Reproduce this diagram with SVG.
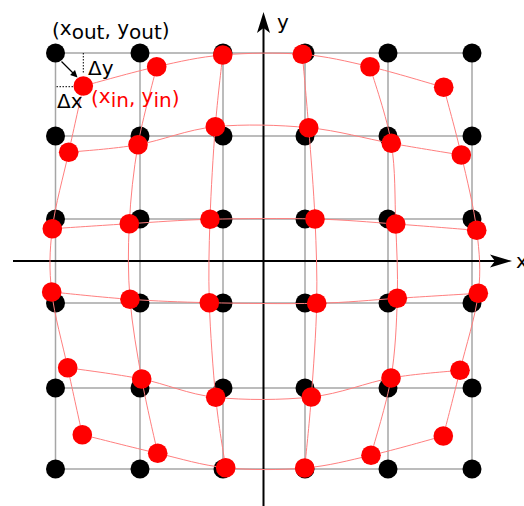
<svg xmlns="http://www.w3.org/2000/svg" width="524" height="506" viewBox="0 0 524 506">
<style>
.grid{stroke:#a6a6a6;stroke-width:1.5;fill:none}
.axis{stroke:#000;stroke-width:2;fill:none}
.rl{stroke:#ff7f7f;stroke-width:1;fill:none;stroke-linejoin:round}
.bd{fill:#000}
.rd{fill:#ff0000}
text{font-family:"DejaVu Sans","Liberation Sans",sans-serif;font-size:20px}
.dot{stroke:#000;stroke-width:1;stroke-dasharray:1.5 1.5;fill:none}
</style>
<rect width="524" height="506" fill="#fff"/>
<g id="grid">
<path class="grid" d="M55.5 53V469M140 53V469M223 53V469M305 53V469M388 53V469M472 53V469M55.5 53H472M55.5 136H472M55.5 219H472M55.5 303H472M55.5 388H472M55.5 469H472"/>
</g>
<g id="axes">
<line class="axis" x1="13" y1="261" x2="497" y2="261"/>
<path d="M512 261L490 254.5L495 261L490 267.5Z" fill="#000"/>
<line class="axis" x1="263.5" y1="506" x2="263.5" y2="28"/>
<path d="M263.5 12L257 33L263.5 28L270 33Z" fill="#000"/>
<text x="277" y="29">y</text>
<text x="516" y="268">x</text>
</g>
<g id="output-points">
<circle class="bd" cx="55.5" cy="53" r="9.5"/><circle class="bd" cx="140" cy="53" r="9.5"/><circle class="bd" cx="223" cy="53" r="9.5"/><circle class="bd" cx="305" cy="53" r="9.5"/><circle class="bd" cx="388" cy="53" r="9.5"/><circle class="bd" cx="472" cy="53" r="9.5"/>
<circle class="bd" cx="55.5" cy="136" r="9.5"/><circle class="bd" cx="140" cy="136" r="9.5"/><circle class="bd" cx="223" cy="136" r="9.5"/><circle class="bd" cx="305" cy="136" r="9.5"/><circle class="bd" cx="388" cy="136" r="9.5"/><circle class="bd" cx="472" cy="136" r="9.5"/>
<circle class="bd" cx="55.5" cy="219" r="9.5"/><circle class="bd" cx="140" cy="219" r="9.5"/><circle class="bd" cx="223" cy="219" r="9.5"/><circle class="bd" cx="305" cy="219" r="9.5"/><circle class="bd" cx="388" cy="219" r="9.5"/><circle class="bd" cx="472" cy="219" r="9.5"/>
<circle class="bd" cx="55.5" cy="303" r="9.5"/><circle class="bd" cx="140" cy="303" r="9.5"/><circle class="bd" cx="223" cy="303" r="9.5"/><circle class="bd" cx="305" cy="303" r="9.5"/><circle class="bd" cx="388" cy="303" r="9.5"/><circle class="bd" cx="472" cy="303" r="9.5"/>
<circle class="bd" cx="55.5" cy="388" r="9.5"/><circle class="bd" cx="140" cy="388" r="9.5"/><circle class="bd" cx="223" cy="388" r="9.5"/><circle class="bd" cx="305" cy="388" r="9.5"/><circle class="bd" cx="388" cy="388" r="9.5"/><circle class="bd" cx="472" cy="388" r="9.5"/>
<circle class="bd" cx="55.5" cy="469" r="9.5"/><circle class="bd" cx="140" cy="469" r="9.5"/><circle class="bd" cx="223" cy="469" r="9.5"/><circle class="bd" cx="305" cy="469" r="9.5"/><circle class="bd" cx="388" cy="469" r="9.5"/><circle class="bd" cx="472" cy="469" r="9.5"/>
</g>
<g id="connectors">
<path class="rl" d="M83.3 86C95.5 82.8 133.5 71.9 156.7 66.7C179.9 61.5 198.4 57.1 222.7 55C247 52.9 277.8 52.4 302.3 54.3C326.9 56.3 346.4 61.2 370 66.7C393.6 72.2 431.4 83.9 443.7 87.3"/>
<path class="rl" d="M68.7 152.3C80.3 151 113.6 149 138 144.7C162.4 140.4 186.9 129.5 215.3 126.7C243.8 123.9 279.4 124.9 308.7 127.7C338 130.5 365.9 138.8 391.3 143.3C416.7 147.9 449.6 153.1 461.3 155"/>
<path class="rl" d="M52.3 228.7C65.1 227.9 103 225.3 129.3 223.7C155.6 222.1 179.1 220.1 210 219.3C241 218.5 284.1 218.2 315 219C346 219.8 368.8 222.1 395.7 224C422.7 225.9 463.2 229.3 476.7 230.3"/>
<path class="rl" d="M51.7 292C64.8 293.2 103.7 297.5 130 299.3C156.3 301.1 178.2 302 209.3 302.7C240.4 303.4 285.4 304 316.7 303.3C348 302.6 370.4 300 397.3 298.3C424.2 296.6 464.8 294.1 478.3 293.3"/>
<path class="rl" d="M67.7 367.7C80 369.6 117 374.1 141.7 379C166.4 383.9 187.4 394.3 215.7 397.3C244 400.3 282.1 400.2 311.3 397C340.5 393.8 366.2 382.5 391 378C415.8 373.6 448.5 371.6 460 370.3"/>
<path class="rl" d="M82.3 434.7C94.9 437.8 133.8 447.8 157.7 453.3C181.6 458.8 201.2 465.3 225.7 467.7C250.2 470.2 280.5 470.1 304.7 468C328.9 465.9 347.9 460.6 371 455.3C394.1 450 431.3 439.2 443.3 436"/>
<path class="rl" d="M83.3 86C80.9 97.1 73.9 128.5 68.7 152.3C63.5 176.1 55.1 205.4 52.3 228.7C49.5 252 49.1 268.8 51.7 292C54.3 315.2 62.6 343.9 67.7 367.7C72.8 391.5 79.9 423.5 82.3 434.7"/>
<path class="rl" d="M156.7 66.7C153.6 79.7 142.6 118.5 138 144.7C133.4 170.9 130.6 197.9 129.3 223.7C128 249.5 127.9 273.4 130 299.3C132.1 325.2 137.1 353.3 141.7 379C146.3 404.7 155 440.9 157.7 453.3"/>
<path class="rl" d="M222.7 55C221.5 67 217.4 99.3 215.3 126.7C213.2 154.1 211 190 210 219.3C209 248.6 208.4 273 209.3 302.7C210.3 332.4 213 369.8 215.7 397.3C218.4 424.8 224 456 225.7 467.7"/>
<path class="rl" d="M302.3 54.3C303.4 66.5 306.6 100.3 308.7 127.7C310.8 155.2 313.7 189.7 315 219C316.3 248.3 317.3 273.6 316.7 303.3C316.1 333 313.3 369.6 311.3 397C309.3 424.5 305.8 456.2 304.7 468"/>
<path class="rl" d="M370 66.7C373.6 79.5 387 117.1 391.3 143.3C395.6 169.5 394.7 198.2 395.7 224C396.7 249.8 398.1 272.6 397.3 298.3C396.5 324 395.4 351.8 391 378C386.6 404.2 374.3 442.4 371 455.3"/>
<path class="rl" d="M443.7 87.3C446.6 98.6 455.8 131.2 461.3 155C466.8 178.8 473.9 207.3 476.7 230.3C479.5 253.4 481.1 270 478.3 293.3C475.5 316.6 465.8 346.5 460 370.3C454.2 394.1 446.1 425.1 443.3 436"/>
<line x1="61.5" y1="61.5" x2="73" y2="73" stroke="#000" stroke-width="1.3"/>
<path d="M77.5 77.5L70.1 75L75 70.1Z" fill="#000"/>
<line class="dot" x1="83.3" y1="53" x2="83.3" y2="74"/>
<line class="dot" x1="56.5" y1="86.7" x2="74" y2="86.7"/>
</g>
<g id="input-points">
<circle class="rd" cx="83.3" cy="86" r="9.8"/><circle class="rd" cx="156.7" cy="66.7" r="9.8"/><circle class="rd" cx="222.7" cy="55" r="9.8"/><circle class="rd" cx="302.3" cy="54.3" r="9.8"/><circle class="rd" cx="370" cy="66.7" r="9.8"/><circle class="rd" cx="443.7" cy="87.3" r="9.8"/>
<circle class="rd" cx="68.7" cy="152.3" r="9.8"/><circle class="rd" cx="138" cy="144.7" r="9.8"/><circle class="rd" cx="215.3" cy="126.7" r="9.8"/><circle class="rd" cx="308.7" cy="127.7" r="9.8"/><circle class="rd" cx="391.3" cy="143.3" r="9.8"/><circle class="rd" cx="461.3" cy="155" r="9.8"/>
<circle class="rd" cx="52.3" cy="228.7" r="9.8"/><circle class="rd" cx="129.3" cy="223.7" r="9.8"/><circle class="rd" cx="210" cy="219.3" r="9.8"/><circle class="rd" cx="315" cy="219" r="9.8"/><circle class="rd" cx="395.7" cy="224" r="9.8"/><circle class="rd" cx="476.7" cy="230.3" r="9.8"/>
<circle class="rd" cx="51.7" cy="292" r="9.8"/><circle class="rd" cx="130" cy="299.3" r="9.8"/><circle class="rd" cx="209.3" cy="302.7" r="9.8"/><circle class="rd" cx="316.7" cy="303.3" r="9.8"/><circle class="rd" cx="397.3" cy="298.3" r="9.8"/><circle class="rd" cx="478.3" cy="293.3" r="9.8"/>
<circle class="rd" cx="67.7" cy="367.7" r="9.8"/><circle class="rd" cx="141.7" cy="379" r="9.8"/><circle class="rd" cx="215.7" cy="397.3" r="9.8"/><circle class="rd" cx="311.3" cy="397" r="9.8"/><circle class="rd" cx="391" cy="378" r="9.8"/><circle class="rd" cx="460" cy="370.3" r="9.8"/>
<circle class="rd" cx="82.3" cy="434.7" r="9.8"/><circle class="rd" cx="157.7" cy="453.3" r="9.8"/><circle class="rd" cx="225.7" cy="467.7" r="9.8"/><circle class="rd" cx="304.7" cy="468" r="9.8"/><circle class="rd" cx="371" cy="455.3" r="9.8"/><circle class="rd" cx="443.3" cy="436" r="9.8"/>
</g>
<g id="labels">
<text x="52" y="37">(<tspan y="34.5">x</tspan><tspan y="39.3">out</tspan><tspan y="37">, </tspan><tspan y="34.5">y</tspan><tspan y="39.3">out</tspan><tspan y="37">)</tspan></text>
<text x="88" y="74.5">Δy</text>
<text x="57" y="107.5">Δx</text>
<text fill="#ff0000" x="91" y="104.7">(<tspan y="103.3">x</tspan><tspan y="107">in</tspan><tspan y="104.7">, </tspan><tspan y="103.3">y</tspan><tspan y="107">in</tspan><tspan y="104.7">)</tspan></text>
</g>
</svg>
